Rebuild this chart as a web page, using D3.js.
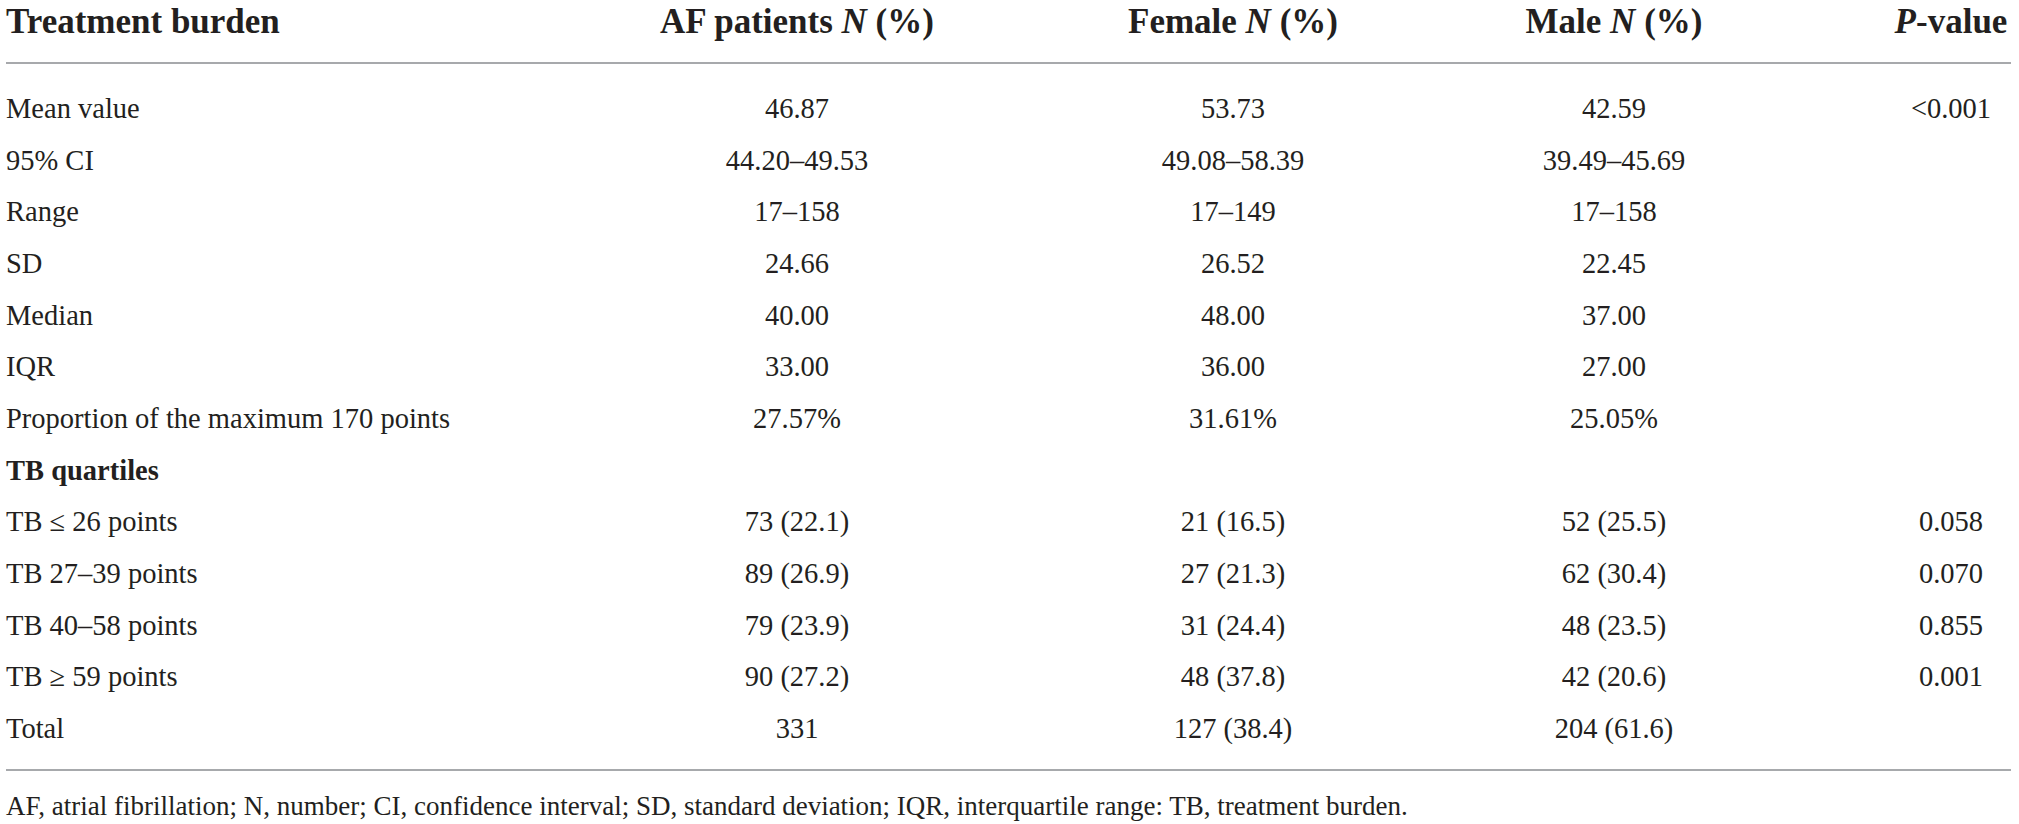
<!DOCTYPE html>
<html lang="en">
<head>
    <meta charset="UTF-8">
    <title>Treatment burden table</title>
    <script src="https://d3js.org/d3.v7.min.js"></script>
</head>

<style>
    body{
        margin: 0;
        background: white;
    }
    svg text {
        font-family: "Liberation Serif", "DejaVu Serif", serif;
        fill: #231f20;
    }
</style>
<body>

    <svg id="svgTable"></svg>

    <script>
    //Table content
        const rowLabels = [
            "Mean value", "95% CI", "Range", "SD", "Median", "IQR",
            "Proportion of the maximum 170 points", "TB quartiles",
            "TB \u2264 26 points", "TB 27\u201339 points", "TB 40\u201358 points",
            "TB \u2265 59 points", "Total"
        ];
        const afValues = ["46.87", "44.20\u201349.53", "17\u2013158", "24.66", "40.00", "33.00", "27.57%", "",
            "73 (22.1)", "89 (26.9)", "79 (23.9)", "90 (27.2)", "331"];
        const femaleValues = ["53.73", "49.08\u201358.39", "17\u2013149", "26.52", "48.00", "36.00", "31.61%", "",
            "21 (16.5)", "27 (21.3)", "31 (24.4)", "48 (37.8)", "127 (38.4)"];
        const maleValues = ["42.59", "39.49\u201345.69", "17\u2013158", "22.45", "37.00", "27.00", "25.05%", "",
            "52 (25.5)", "62 (30.4)", "48 (23.5)", "42 (20.6)", "204 (61.6)"];
        const pValues = ["<0.001", "", "", "", "", "", "", "", "0.058", "0.070", "0.855", "0.001", ""];
        const boldRows = ["TB quartiles"];

        // header pieces: plain text before, italic letter, plain text after
        const headerPre = ["AF patients ", "Female ", "Male ", ""];
        const headerItalic = ["N", "N", "N", "P"];
        const headerPost = [" (%)", " (%)", " (%)", "-value"];

        const footnote = "AF, atrial fibrillation; N, number; CI, confidence interval; SD, standard deviation; IQR, interquartile range: TB, treatment burden.";

    //Layout
        const width = 2019;
        const height = 824;
        const bodySize = 28.5;
        const headSize = 35;
        const left = 6;
        const right = 2011;

        const svg = d3.select("#svgTable")
            .attr("width", width)
            .attr("height", height);

        const y = d3.scalePoint()
            .domain(rowLabels)
            .range([118, 738]);

        const colX = [797, 1233, 1614, 1951];
        const columns = [afValues, femaleValues, maleValues, pValues];

    //Header
        const header = svg.append("g")
            .attr("font-weight", "bold")
            .attr("font-size", headSize);

        header.append("text")
            .attr("x", left).attr("y", 33)
            .text("Treatment burden");

        colX.forEach((cx, i) => {
            const t = header.append("text")
                .attr("x", cx).attr("y", 33)
                .attr("text-anchor", "middle");
            t.append("tspan").text(headerPre[i]);
            t.append("tspan").attr("font-style", "italic").text(headerItalic[i]);
            t.append("tspan").text(headerPost[i]);
        });

    //Rules
        svg.selectAll("line.rule")
            .data([63, 770])
            .join("line")
            .attr("class", "rule")
            .attr("x1", left).attr("x2", right)
            .attr("y1", d => d).attr("y2", d => d)
            .attr("stroke", "#a7a9ac")
            .attr("stroke-width", 2);

    //Row labels
        svg.append("g")
            .attr("font-size", bodySize)
            .selectAll("text")
            .data(rowLabels)
            .join("text")
            .attr("x", left)
            .attr("y", d => y(d))
            .attr("font-weight", d => boldRows.includes(d) ? "bold" : "normal")
            .text(d => d);

    //Value cells
        columns.forEach((values, c) => {
            svg.append("g")
                .attr("font-size", bodySize)
                .attr("text-anchor", "middle")
                .selectAll("text")
                .data(values.map((v, i) => ({v: v, row: rowLabels[i]})))
                .join("text")
                .attr("x", colX[c])
                .attr("y", d => y(d.row))
                .text(d => d.v);
        });

    //Footnote
        svg.append("text")
            .attr("x", left).attr("y", 815)
            .attr("font-size", 27)
            .text(footnote);
    </script>
</body>
</html>
